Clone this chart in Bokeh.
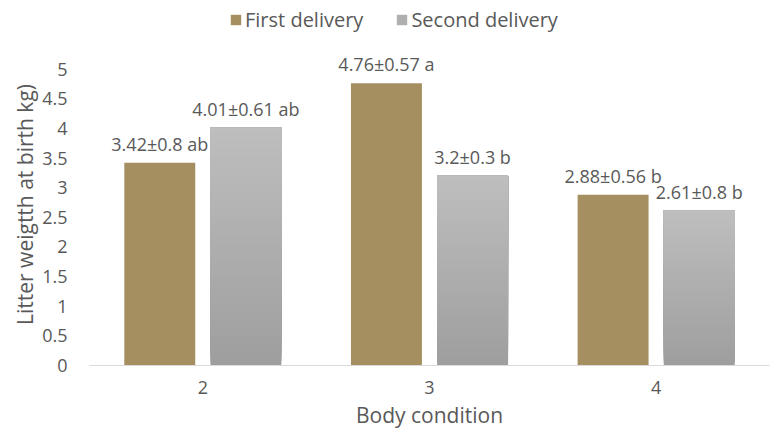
from bokeh.plotting import figure
from bokeh.models import ColumnDataSource, Range1d, FixedTicker, Legend, LegendItem
from bokeh.layouts import column
from bokeh.transform import dodge
from bokeh.embed import file_html
from bokeh.resources import INLINE
from bokeh.core.properties import value

# ---- data ----
categories = [2, 3, 4]
first_delivery = [3.42, 4.76, 2.88]
second_delivery = [4.01, 3.2, 2.61]
first_labels = ["3.42\u00b10.8 ab", "4.76\u00b10.57 a", "2.88\u00b10.56 b"]
second_labels = ["4.01\u00b10.61 ab", "3.2\u00b10.3 b", "2.61\u00b10.8 b"]
y_ticks = [0, 0.5, 1, 1.5, 2, 2.5, 3, 3.5, 4, 4.5, 5]
y_tick_labels = ["0", "0.5", "1", "1.5", "2", "2.5", "3", "3.5", "4", "4.5", "5"]
series_names = ["First delivery", "Second delivery"]
x_title = "Body condition"
y_title = "Litter weigtth at birth kg)"

FONT = "Open Sans"
TXT = "#595959"
GOLD = "#A58F61"
GRAY_MID = "#AFAFAF"
GRAY_TOP = (190, 190, 190)
GRAY_BOT = (158, 158, 158)

# ---------------- legend strip ----------------
lf = figure(width=772, height=43, output_backend="svg", toolbar_location=None,
            x_axis_type=None, y_axis_type=None, x_range=Range1d(0, 1), y_range=Range1d(0, 1))
lf.min_border_left = lf.min_border_right = lf.min_border_top = lf.min_border_bottom = 0
lf.outline_line_color = None
lf.xgrid.grid_line_color = None
lf.ygrid.grid_line_color = None
# zero-size placeholder bars that only carry the legend styling
lsrc = ColumnDataSource(dict(x=[0.5], top=[0]))
lr1 = lf.vbar(x="x", top="top", bottom=0, width=0, source=lsrc, fill_color=GOLD, line_color=None)
lr2 = lf.vbar(x="x", top="top", bottom=0, width=0, source=lsrc, fill_color=GRAY_MID, line_color=None)
legend = Legend(items=[LegendItem(label=series_names[0], renderers=[lr1]),
                       LegendItem(label=series_names[1], renderers=[lr2])],
                orientation="horizontal", location=(140, 10))
legend.label_text_font = FONT
legend.label_text_font_size = "20px"
legend.label_text_color = TXT
legend.glyph_width = 13
legend.glyph_height = 13
legend.label_standoff = 3
legend.spacing = 32
legend.padding = 0
legend.margin = 0
legend.border_line_color = None
legend.background_fill_alpha = 0
lf.add_layout(legend)

# ---------------- main chart ----------------
p = figure(width=772, height=388, output_backend="svg", toolbar_location=None,
           x_range=Range1d(1.5, 4.5), y_range=Range1d(0, 5.432))
p.min_border_left = 89
p.min_border_right = 3
p.min_border_bottom = 66
p.min_border_top = 0
p.outline_line_color = None
p.xgrid.grid_line_color = None
p.ygrid.grid_line_color = None
p.background_fill_color = "white"
p.border_fill_color = "white"

src1 = ColumnDataSource(dict(x=categories, top=first_delivery, lab=first_labels))
p.vbar(x=dodge("x", -0.19, range=p.x_range), top="top", bottom=0, width=0.313,
       source=src1, fill_color=GOLD, line_color=None)

# gradient gray bars: each bar is layered from bottom (dark) to top (light)
N = 60
gx, gb, gt, gc = [], [], [], []
for c, v in zip(categories, second_delivery):
    for i in range(N):
        fm = (i + 0.5) / N
        col = tuple(int(round(GRAY_BOT[k] + (GRAY_TOP[k] - GRAY_BOT[k]) * fm)) for k in range(3))
        gx.append(c)
        gb.append(v * i / N)
        gt.append(v)
        gc.append("#%02x%02x%02x" % col)
src2 = ColumnDataSource(dict(x=gx, bottom=gb, top=gt, color=gc))
p.vbar(x=dodge("x", 0.19, range=p.x_range), top="top", bottom="bottom", width=0.313,
       source=src2, fill_color="color", line_color=None)
src2l = ColumnDataSource(dict(x=categories, top=second_delivery, lab=second_labels))

for src, off in ((src1, -0.19), (src2l, 0.19)):
    p.text(x=dodge("x", off, range=p.x_range), y="top", text="lab", source=src,
           text_align="center", text_baseline="alphabetic", y_offset=-19,
           text_font=value(FONT), text_font_size="18px", text_color=TXT)

# axes
p.xaxis.ticker = FixedTicker(ticks=categories)
p.xaxis.axis_label = x_title
p.yaxis.ticker = FixedTicker(ticks=y_ticks)
p.yaxis.major_label_overrides = {t: l for t, l in zip(y_ticks, y_tick_labels)}
p.yaxis.axis_label = y_title
for ax in (p.xaxis[0], p.yaxis[0]):
    ax.major_tick_line_color = None
    ax.minor_tick_line_color = None
    ax.major_label_text_font = FONT
    ax.major_label_text_font_size = "18px"
    ax.major_label_text_color = TXT
    ax.axis_label_text_font = FONT
    ax.axis_label_text_font_style = "normal"
    ax.axis_label_text_color = TXT
    ax.axis_label_text_font_size = "21px"
p.xaxis.axis_line_color = "#D9D9DE"
p.xaxis.major_label_standoff = 9
p.xaxis.axis_label_standoff = 4
p.yaxis.axis_line_color = None
p.yaxis.major_label_standoff = 16
p.yaxis.axis_label_standoff = 0

layout = column(lf, p, spacing=0)
open("out.html", "w").write(file_html(layout, INLINE))
